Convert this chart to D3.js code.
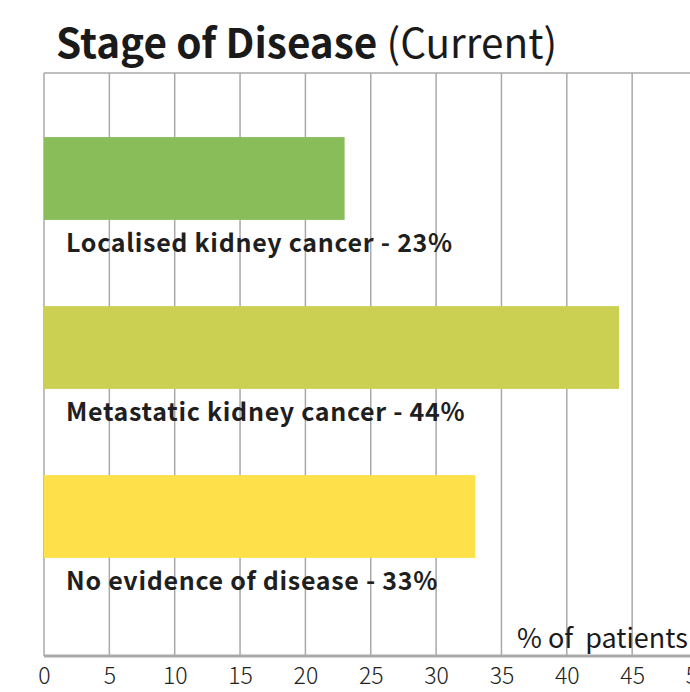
<!DOCTYPE html>
<html>
<head>
<meta charset="utf-8">
<script src="https://cdn.jsdelivr.net/npm/d3@7"></script>
<style>
  body { margin: 0; background: #fff; }
  svg { display: block; font-family: "Noto Sans CJK SC", "Noto Sans", sans-serif; }
</style>
</head>
<body>
<svg id="svg" width="690" height="692"></svg>
<script>
const categories = ["Localised kidney cancer", "Metastatic kidney cancer", "No evidence of disease"];
const values = [23, 44, 33];
const colors = ["#88bd59", "#cbcf52", "#fde04a"];
const ticks = [0, 5, 10, 15, 20, 25, 30, 35, 40, 45, 50];

const svg = d3.select("#svg");
const plotLeft = 44, plotTop = 73, plotBottom = 656;

const x = d3.scaleLinear().domain([0, 50]).range([plotLeft, plotLeft + 50 * 13.07]);
const y = d3.scaleBand().domain(categories).range([94, 601]).paddingInner(0.51).paddingOuter(0.255);

// vertical grid lines
svg.selectAll(".grid")
  .data(ticks)
  .enter()
  .append("line")
  .attr("class", "grid")
  .attr("x1", d => x(d))
  .attr("x2", d => x(d))
  .attr("y1", plotTop)
  .attr("y2", plotBottom)
  .attr("stroke", "#a9a9a9")
  .attr("stroke-width", 1.5);

// top border
svg.append("line")
  .attr("x1", plotLeft).attr("x2", 690)
  .attr("y1", plotTop).attr("y2", plotTop)
  .attr("stroke", "#a9a9a9")
  .attr("stroke-width", 1.5);

// bars
svg.selectAll(".bar")
  .data(categories)
  .enter()
  .append("rect")
  .attr("class", "bar")
  .attr("x", x(0))
  .attr("y", d => y(d))
  .attr("width", (d, i) => x(values[i]) - x(0))
  .attr("height", y.bandwidth())
  .attr("fill", (d, i) => colors[i]);

// labels under bars
svg.selectAll(".label")
  .data(categories)
  .enter()
  .append("text")
  .attr("class", "label")
  .attr("x", 66)
  .attr("y", d => y(d) + y.bandwidth() + 32)
  .attr("font-size", 25)
  .attr("font-weight", "bold")
  .attr("letter-spacing", 0.7)
  .attr("fill", "#1f1f1f")
  .text((d, i) => d + " - " + values[i] + "%");

// x axis
const axis = svg.append("g")
  .attr("transform", `translate(0,${plotBottom})`)
  .call(d3.axisBottom(x).tickValues(ticks).tickSize(0).tickPadding(12));
axis.select(".domain")
  .attr("stroke", "#a9a9a9")
  .attr("stroke-width", 3)
  .attr("d", `M${plotLeft},0H690`);
axis.selectAll("text")
  .attr("font-size", 23)
  .attr("font-family", "'Noto Sans CJK SC', sans-serif")
  .attr("font-weight", 300)
  .attr("fill", "#222");

svg.append("text")
  .attr("x", 517)
  .attr("y", 648)
  .attr("font-size", 27)
  .attr("fill", "#1a1a1a")
  .style("white-space", "pre")
  .text("% of  patients");

// title
const title = svg.append("text")
  .attr("x", 56)
  .attr("y", 58)
  .attr("font-size", 40.5)
  .attr("fill", "#1a1a1a");
title.append("tspan").attr("font-weight", "bold").text("Stage of Disease");
title.append("tspan").text(" (Current)");
</script>
</body>
</html>
